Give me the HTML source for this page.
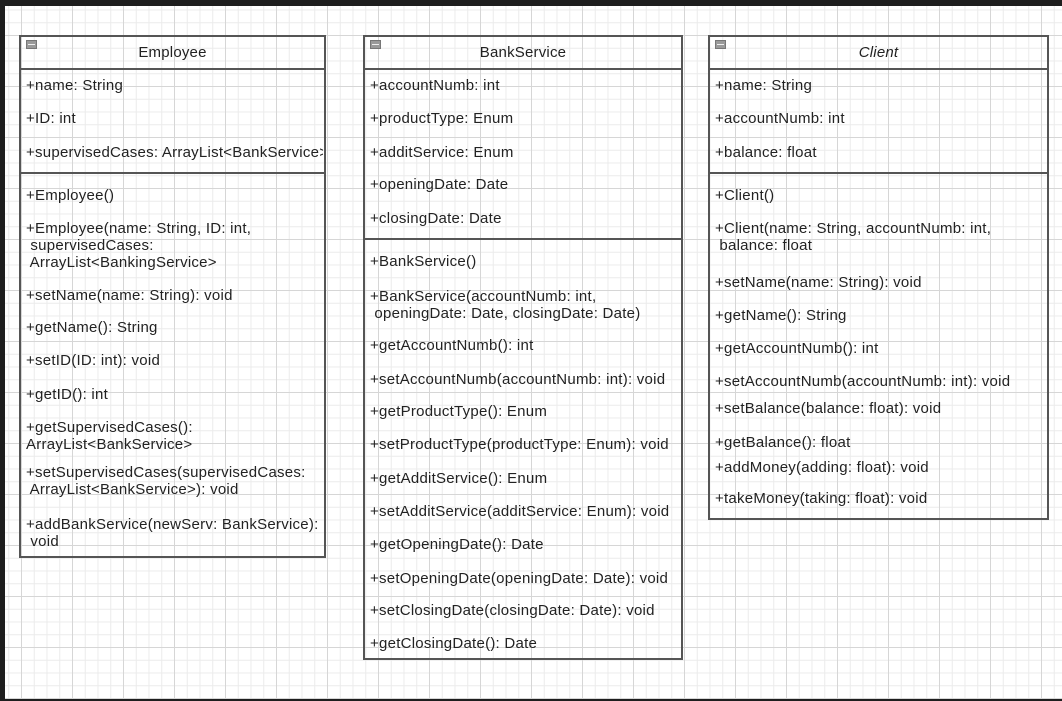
<!DOCTYPE html>
<html><head><meta charset="utf-8"><style>
html,body{margin:0;padding:0}
body{width:1062px;height:701px;background:#1e1e1e;position:relative;overflow:hidden;font-family:"Liberation Sans",Arial,sans-serif}
#canvas{position:absolute;left:5px;top:6px;width:1057px;height:693px;background-color:#fff;
background-image:
linear-gradient(to right,#d6d6d6 1px,transparent 1px),
linear-gradient(to bottom,#d6d6d6 1px,transparent 1px),
linear-gradient(to right,#ebebeb 1px,transparent 1px),
linear-gradient(to bottom,#ebebeb 1px,transparent 1px);
background-size:51px 51px,51px 51px,12.75px 12.75px,12.75px 12.75px;
background-position:16px 0,0 29px,16px 0,0 29px}
.box{position:absolute;border:2px solid #555;box-sizing:border-box;overflow:hidden}
.hd{position:absolute;left:0;right:0;top:0;height:31px;border-bottom:2px solid #555;text-align:center;line-height:32px;font-size:15px;letter-spacing:0.2px;color:#222}
.sep{position:absolute;left:0;right:0;height:0;border-top:2px solid #555}
.ic{position:absolute;left:5px;top:3px;width:11px;height:9px;background:#9a9a9a;border:1px solid #777;box-sizing:border-box}
.ic:after{content:"";position:absolute;left:1px;right:1px;top:3px;height:1px;background:#eee}
.t{position:absolute;white-space:pre;font-size:15px;letter-spacing:0.25px;line-height:17px;color:#222}
</style></head><body>
<div id="canvas"></div>

<div class="box" style="left:19px;top:35px;width:307px;height:523px">
<div class="hd">Employee</div><div class="ic"></div>
<div class="sep" style="top:135px"></div>
</div>
<div class="box" style="left:363px;top:35px;width:320px;height:625px">
<div class="hd">BankService</div><div class="ic"></div>
<div class="sep" style="top:201px"></div>
</div>
<div class="box" style="left:708px;top:35px;width:341px;height:485px">
<div class="hd" style="font-style:italic">Client</div><div class="ic"></div>
<div class="sep" style="top:135px"></div>
</div>

<div style="position:absolute;left:0;top:0;width:323px;height:700px;overflow:hidden">
<div class="t" style="left:26px;top:77px">+name: String</div>
<div class="t" style="left:26px;top:110px">+ID: int</div>
<div class="t" style="left:26px;top:144px">+supervisedCases: ArrayList&lt;BankService&gt;</div>
<div class="t" style="left:26px;top:187px">+Employee()</div>
<div class="t" style="left:26px;top:220px">+Employee(name: String, ID: int,
 supervisedCases:
 ArrayList&lt;BankingService&gt;</div>
<div class="t" style="left:26px;top:287px">+setName(name: String): void</div>
<div class="t" style="left:26px;top:319px">+getName(): String</div>
<div class="t" style="left:26px;top:352px">+setID(ID: int): void</div>
<div class="t" style="left:26px;top:386px">+getID(): int</div>
<div class="t" style="left:26px;top:419px">+getSupervisedCases():
ArrayList&lt;BankService&gt;</div>
<div class="t" style="left:26px;top:464px">+setSupervisedCases(supervisedCases:
 ArrayList&lt;BankService&gt;): void</div>
<div class="t" style="left:26px;top:516px">+addBankService(newServ: BankService):
 void</div>
</div>

<div class="t" style="left:370px;top:77px">+accountNumb: int</div>
<div class="t" style="left:370px;top:110px">+productType: Enum</div>
<div class="t" style="left:370px;top:144px">+additService: Enum</div>
<div class="t" style="left:370px;top:176px">+openingDate: Date</div>
<div class="t" style="left:370px;top:210px">+closingDate: Date</div>
<div class="t" style="left:370px;top:253px">+BankService()</div>
<div class="t" style="left:370px;top:288px">+BankService(accountNumb: int,
 openingDate: Date, closingDate: Date)</div>
<div class="t" style="left:370px;top:337px">+getAccountNumb(): int</div>
<div class="t" style="left:370px;top:371px">+setAccountNumb(accountNumb: int): void</div>
<div class="t" style="left:370px;top:403px">+getProductType(): Enum</div>
<div class="t" style="left:370px;top:436px">+setProductType(productType: Enum): void</div>
<div class="t" style="left:370px;top:470px">+getAdditService(): Enum</div>
<div class="t" style="left:370px;top:503px">+setAdditService(additService: Enum): void</div>
<div class="t" style="left:370px;top:536px">+getOpeningDate(): Date</div>
<div class="t" style="left:370px;top:570px">+setOpeningDate(openingDate: Date): void</div>
<div class="t" style="left:370px;top:602px">+setClosingDate(closingDate: Date): void</div>
<div class="t" style="left:370px;top:635px">+getClosingDate(): Date</div>

<div class="t" style="left:715px;top:77px">+name: String</div>
<div class="t" style="left:715px;top:110px">+accountNumb: int</div>
<div class="t" style="left:715px;top:144px">+balance: float</div>
<div class="t" style="left:715px;top:187px">+Client()</div>
<div class="t" style="left:715px;top:220px">+Client(name: String, accountNumb: int,
 balance: float</div>
<div class="t" style="left:715px;top:274px">+setName(name: String): void</div>
<div class="t" style="left:715px;top:307px">+getName(): String</div>
<div class="t" style="left:715px;top:340px">+getAccountNumb(): int</div>
<div class="t" style="left:715px;top:373px">+setAccountNumb(accountNumb: int): void</div>
<div class="t" style="left:715px;top:400px">+setBalance(balance: float): void</div>
<div class="t" style="left:715px;top:434px">+getBalance(): float</div>
<div class="t" style="left:715px;top:459px">+addMoney(adding: float): void</div>
<div class="t" style="left:715px;top:490px">+takeMoney(taking: float): void</div>
</body></html>
